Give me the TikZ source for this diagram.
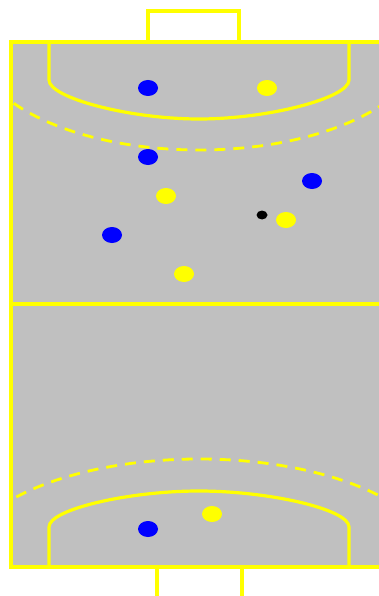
\documentclass[tikz,border=0pt]{standalone}
\usetikzlibrary{shapes.geometric}
\definecolor{court}{HTML}{C0C0C0}
\definecolor{lineY}{HTML}{FFFF00}
\definecolor{teamB}{HTML}{0000FF}
\definecolor{teamY}{HTML}{FFFF00}
\begin{document}
\begin{tikzpicture}[x=1pt,y=-1pt,
  courtline/.style={draw=lineY,line width=3.2pt},
  dashline/.style={draw=lineY,line width=2.8pt,dash pattern=on 11pt off 8pt},
  bluep/.style={ellipse,fill=teamB,minimum width=20pt,minimum height=16pt,inner sep=0pt},
  yellowp/.style={ellipse,fill=teamY,minimum width=20pt,minimum height=16pt,inner sep=0pt},
  ballp/.style={ellipse,fill=black,minimum width=11pt,minimum height=9pt,inner sep=0pt}]
\useasboundingbox (0,0) rectangle (379,596);
\begin{scope}
\clip (0,0) rectangle (379,596);
% court
\fill[court] (11,42) rectangle (389,567);
% dashed free-throw lines
\begin{scope}
\clip (11,42) rectangle (389,567);
\draw[dashline] (199,42) ++(-225,0) arc[start angle=180,end angle=0,x radius=225,y radius=108];
\draw[dashline] (199,567) ++(-240,0) arc[start angle=180,end angle=0,x radius=240,y radius=-108];
\end{scope}
% goal areas
\draw[courtline] (49,42) -- (49,80) .. controls (49,98) and (130,119) .. (199,119)
  .. controls (268,119) and (349,98) .. (349,80) -- (349,42);
\draw[courtline] (49,567) -- (49,527) .. controls (49,509) and (130,491) .. (199,491)
  .. controls (268,491) and (349,509) .. (349,527) -- (349,567);
% centre line
\draw[courtline] (11,304) -- (389,304);
% court border
\draw[courtline] (11,42) rectangle (389,567);
% goals
\draw[courtline] (148,42) -- (148,11) -- (239,11) -- (239,42);
\draw[courtline] (157,567) -- (157,600);
\draw[courtline] (242,567) -- (242,600);
\end{scope}
% players
\node[bluep] (b1) at (148,88) {};
\node[yellowp] (y1) at (267,88) {};
\node[bluep] (b2) at (148,157) {};
\node[bluep] (b3) at (312,181) {};
\node[yellowp] (y2) at (166,196) {};
\node[ballp] (ball) at (262,215) {};
\node[yellowp] (y3) at (286,220) {};
\node[bluep] (b4) at (112,235) {};
\node[yellowp] (y4) at (184,274) {};
\node[yellowp] (y5) at (212,514) {};
\node[bluep] (b5) at (148,529) {};
\end{tikzpicture}
\end{document}
